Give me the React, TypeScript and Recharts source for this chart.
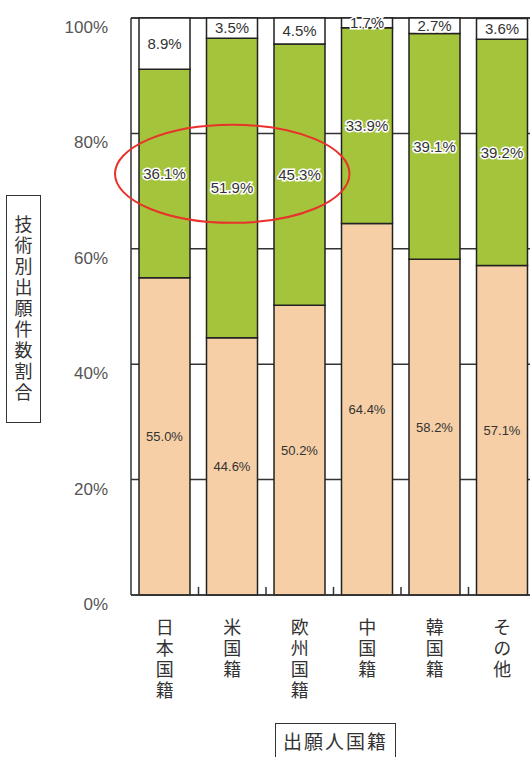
import React from "react";
import {
  BarChart,
  Bar,
  XAxis,
  YAxis,
  CartesianGrid,
  LabelList,
  ReferenceArea,
  ReferenceLine,
} from "recharts";

// categories (applicant nationality)
const categories = ["日本国籍", "米国籍", "欧州国籍", "中国籍", "韓国籍", "その他"];
// share per segment, bottom to top (%)
const lowerShare = [55.0, 44.6, 50.2, 64.4, 58.2, 57.1];
const middleShare = [36.1, 51.9, 45.3, 33.9, 39.1, 39.2];
const upperShare = [8.9, 3.5, 4.5, 1.7, 2.7, 3.6];
const yTicks = [0, 20, 40, 60, 80, 100];

const data = categories.map((name, i) => ({
  name,
  lower: lowerShare[i],
  middle: middleShare[i],
  upper: upperShare[i],
}));

const NUM_FONT = "'Liberation Sans', Arial, sans-serif";
const JP_FONT = "'Noto Sans CJK JP', sans-serif";

const pct = (v: number) => `${Number(v).toFixed(1)}%`;

const makeLabel = (size: number, halo: boolean) => (props: any) => {
  const { x, y, width, height, value } = props;
  return (
    <text
      x={x + width / 2}
      y={y + height / 2}
      dy="0.35em"
      textAnchor="middle"
      fontSize={size}
      fontFamily={NUM_FONT}
      fill="#333"
      stroke={halo ? "#fff" : "none"}
      strokeWidth={halo ? 3 : 0}
      paintOrder="stroke"
    >
      {pct(value)}
    </text>
  );
};

const CategoryTick = (props: any) => {
  const { x, y, payload } = props;
  return (
    <text
      x={x}
      y={y + 23}
      textAnchor="start"
      fontSize={18}
      fontFamily={JP_FONT}
      fill="#333"
      letterSpacing={3}
      style={{ writingMode: "vertical-rl" }}
    >
      {payload.value}
    </text>
  );
};

const Ellipse = (props: any) => {
  const { x, y, width, height } = props;
  return (
    <ellipse
      cx={x + width / 2}
      cy={y + height / 2}
      rx={width / 2 + 16}
      ry={height / 2}
      fill="none"
      stroke="#e8322b"
      strokeWidth={2}
    />
  );
};

export default function App() {
  return (
    <div
      style={{
        position: "absolute",
        left: 0,
        top: 0,
        width: 530,
        height: 757,
        overflow: "hidden",
        background: "#fff",
      }}
    >
      <BarChart
        width={546}
        height={757}
        data={data}
        margin={{ top: 18, right: 10, left: 0, bottom: 0 }}
      >
        <CartesianGrid vertical={false} stroke="#333" strokeWidth={1.5} />
        <XAxis
          dataKey="name"
          height={162}
          axisLine={{ stroke: "#333", strokeWidth: 1.5 }}
          tickLine={false}
          tickSize={0}
          tickMargin={0}
          interval={0}
          tick={<CategoryTick />}
        />
        <YAxis
          width={131}
          domain={[0, 100]}
          ticks={yTicks}
          tickFormatter={(v) => `${v}%`}
          axisLine={{ stroke: "#333", strokeWidth: 1.5 }}
          tickLine={false}
          tickSize={0}
          tickMargin={23}
          tick={{ fontSize: 17, fill: "#555", fontFamily: NUM_FONT, dy: 9 }}
        />
        <Bar
          dataKey="lower"
          stackId="s"
          fill="#f6cfa6"
          stroke="#222"
          strokeWidth={1.5}
          barSize={51}
          isAnimationActive={false}
        >
          <LabelList dataKey="lower" content={makeLabel(13, false)} />
        </Bar>
        <Bar
          dataKey="middle"
          stackId="s"
          fill="#a3c43b"
          stroke="#222"
          strokeWidth={1.5}
          barSize={51}
          isAnimationActive={false}
        >
          <LabelList dataKey="middle" content={makeLabel(15, true)} />
        </Bar>
        <Bar
          dataKey="upper"
          stackId="s"
          fill="#fff"
          stroke="#222"
          strokeWidth={1.5}
          barSize={51}
          isAnimationActive={false}
        >
          <LabelList dataKey="upper" content={makeLabel(15, true)} />
        </Bar>
        {categories.slice(0, -1).map((c) => (
          <ReferenceLine
            key={c}
            position="end"
            segment={[
              { x: c, y: 0 },
              { x: c, y: 1.4 },
            ]}
            stroke="#333"
            strokeWidth={1.5}
          />
        ))}
        <ReferenceArea
          x1="日本国籍"
          x2="欧州国籍"
          y1={64.5}
          y2={81.5}
          shape={<Ellipse />}
          zIndex={1500}
        />
      </BarChart>
      <div
        style={{
          position: "absolute",
          left: 6,
          top: 195,
          width: 33,
          height: 226,
          border: "1.5px solid #333",
          display: "flex",
          alignItems: "center",
          justifyContent: "center",
          writingMode: "vertical-rl",
          fontFamily: JP_FONT,
          fontSize: 18,
          letterSpacing: 3,
          color: "#333",
          lineHeight: 1,
        }}
      >
        技術別出願件数割合
      </div>
      <div
        style={{
          position: "absolute",
          left: 275,
          top: 723,
          width: 121,
          height: 40,
          border: "1.5px solid #333",
          fontFamily: JP_FONT,
          fontSize: 19,
          letterSpacing: 2,
          color: "#333",
          lineHeight: "34px",
          textAlign: "center",
          boxSizing: "border-box",
        }}
      >
        出願人国籍
      </div>
    </div>
  );
}
